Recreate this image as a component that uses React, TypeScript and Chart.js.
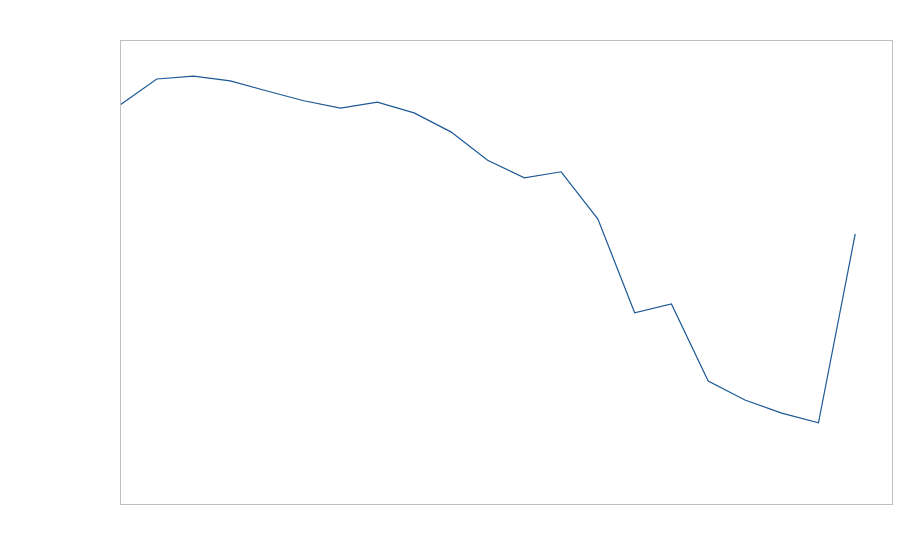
import React, { useEffect, useRef } from "react";
import { Chart, registerables } from "chart.js";

Chart.register(...registerables);

const xIndex = [0, 1, 2, 3, 4, 5, 6, 7, 8, 9, 10, 11, 12, 13, 14, 15, 16, 17, 18, 19, 20];
const values = [86.0, 91.6, 92.2, 91.2, 89.0, 86.9, 85.3, 86.6, 84.3, 80.2, 74.1, 70.3, 71.6, 61.4, 41.2, 43.1, 26.5, 22.4, 19.6, 17.5, 58.2];
const xMin = 0;
const xMax = 21;
const yMin = 0;
const yMax = 100;

const boxPlugin = {
  id: "boxPlugin",
  afterDraw(chart: any) {
    const { ctx, chartArea } = chart;
    ctx.save();
    ctx.strokeStyle = "#c0c0c0";
    ctx.lineWidth = 1;
    ctx.strokeRect(
      Math.round(chartArea.left) + 0.5,
      Math.round(chartArea.top) + 0.5,
      Math.round(chartArea.right - chartArea.left),
      Math.round(chartArea.bottom - chartArea.top)
    );
    ctx.restore();
  },
};

export default function App() {
  const ref = useRef<HTMLCanvasElement>(null);
  useEffect(() => {
    document.body.style.margin = "0";
    const chart = new Chart(ref.current!, {
      type: "line",
      data: {
        datasets: [
          {
            data: xIndex.map((x, i) => ({ x, y: values[i] })),
            borderColor: "#1c5896",
            borderWidth: 1.2,
            pointRadius: 0,
            fill: false,
            tension: 0,
          },
        ],
      },
      options: {
        animation: false,
        responsive: false,
        layout: { padding: { left: 120, top: 40, right: 8, bottom: 56 } },
        plugins: { legend: { display: false }, tooltip: { enabled: false } },
        scales: {
          x: { type: "linear", min: xMin, max: xMax, display: false },
          y: { min: yMin, max: yMax, display: false },
        },
      },
      plugins: [boxPlugin],
    });
    return () => chart.destroy();
  }, []);
  return (
    <div style={{ width: 900, height: 560 }}>
      <canvas ref={ref} width={900} height={560} />
    </div>
  );
}
